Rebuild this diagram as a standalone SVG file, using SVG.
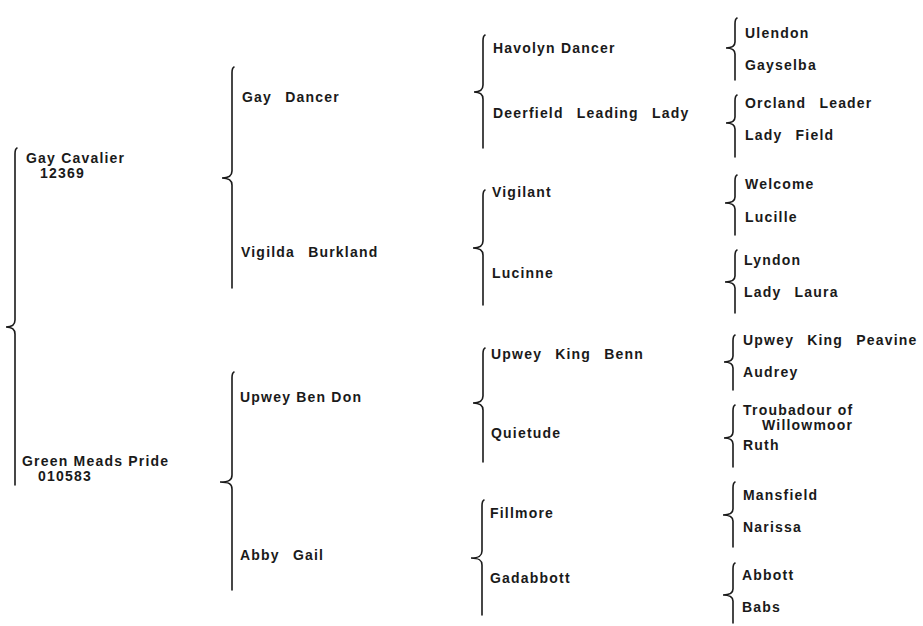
<svg xmlns="http://www.w3.org/2000/svg" width="923" height="626" viewBox="0 0 923 626">
<style>
text{font-family:"Liberation Sans",Arial,sans-serif;font-weight:bold;font-size:14px;letter-spacing:1.2px;fill:#1a1a1a}
.br{fill:none;stroke:#1a1a1a;stroke-width:1.6;stroke-linecap:round}
.w{word-spacing:8px}
</style>
<rect width="923" height="626" fill="#ffffff"/>
<g id="connectors">
<path class="br" d="M17 148 Q15 149 15 154 L15 320 C15 325 12 327 6 327 C12 327 15 329 15 334 L15 485"/>
<path class="br" d="M234 67 Q232 68 232 73 L232 171 C232 176 229 178 222 178 C229 178 232 180 232 185 L232 288"/>
<path class="br" d="M234 372 Q232 373 232 378 L232 475 C232 480 229 482 220 482 C229 482 232 484 232 489 L232 590"/>
<path class="br" d="M485 35 Q483 36 483 41 L483 85 C483 90 480 92 474 92 C480 92 483 94 483 99 L483 148"/>
<path class="br" d="M485 190 Q483 191 483 196 L483 241 C483 246 480 248 473 248 C480 248 483 250 483 255 L483 305"/>
<path class="br" d="M485 348 Q483 349 483 354 L483 396 C483 401 480 403 473 403 C480 403 483 405 483 410 L483 462"/>
<path class="br" d="M484 500 Q482 501 482 506 L482 551 C482 556 479 558 471 558 C479 558 482 560 482 565 L482 615"/>
<path class="br" d="M737 18 Q735 19 735 24 L735 42 C735 46 732 48 726 48 C732 48 735 50 735 54 L735 80"/>
<path class="br" d="M737 95 Q735 96 735 101 L735 117 C735 121 732 123 726 123 C732 123 735 125 735 129 L735 157"/>
<path class="br" d="M737 175 Q735 176 735 181 L735 197 C735 201 732 203 725 203 C732 203 735 205 735 209 L735 235"/>
<path class="br" d="M737 250 Q735 251 735 256 L735 276 C735 280 732 282 725 282 C732 282 735 284 735 288 L735 313"/>
<path class="br" d="M735 335 Q733 336 733 341 L733 356 C733 360 730 362 724 362 C730 362 733 364 733 368 L733 390"/>
<path class="br" d="M735 405 Q733 406 733 411 L733 432 C733 436 730 438 724 438 C730 438 733 440 733 444 L733 467"/>
<path class="br" d="M735 482 Q733 483 733 488 L733 509 C733 513 730 515 723 515 C730 515 733 517 733 521 L733 547"/>
<path class="br" d="M735 563 Q733 564 733 569 L733 589 C733 593 730 595 723 595 C730 595 733 597 733 601 L733 623"/>
</g>
<g id="gay-cavalier"><text x="26" y="163">Gay Cavalier</text><text x="40" y="178">12369</text></g>
<g id="green-meads-pride"><text x="22" y="466">Green Meads Pride</text><text x="38" y="481">010583</text></g>
<g id="gay-dancer"><text class="w" x="242" y="102">Gay Dancer</text></g>
<g id="vigilda-burkland"><text class="w" x="241" y="257">Vigilda Burkland</text></g>
<g id="upwey-ben-don"><text x="240" y="402">Upwey Ben Don</text></g>
<g id="abby-gail"><text class="w" x="240" y="560">Abby Gail</text></g>
<g id="havolyn-dancer"><text x="493" y="53">Havolyn Dancer</text></g>
<g id="deerfield-leading-lady"><text class="w" x="493" y="118">Deerfield Leading Lady</text></g>
<g id="vigilant"><text x="492" y="197">Vigilant</text></g>
<g id="lucinne"><text x="492" y="278">Lucinne</text></g>
<g id="upwey-king-benn"><text class="w" x="491" y="359">Upwey King Benn</text></g>
<g id="quietude"><text x="491" y="438">Quietude</text></g>
<g id="fillmore"><text x="490" y="518">Fillmore</text></g>
<g id="gadabbott"><text x="490" y="583">Gadabbott</text></g>
<g id="ulendon"><text x="745" y="38">Ulendon</text></g>
<g id="gayselba"><text x="745" y="70">Gayselba</text></g>
<g id="orcland-leader"><text class="w" x="745" y="108">Orcland Leader</text></g>
<g id="lady-field"><text class="w" x="745" y="140">Lady Field</text></g>
<g id="welcome"><text x="745" y="189">Welcome</text></g>
<g id="lucille"><text x="745" y="222">Lucille</text></g>
<g id="lyndon"><text x="744" y="265">Lyndon</text></g>
<g id="lady-laura"><text class="w" x="744" y="297">Lady Laura</text></g>
<g id="upwey-king-peavine"><text class="w" x="743" y="345">Upwey King Peavine</text></g>
<g id="audrey"><text x="743" y="377">Audrey</text></g>
<g id="troubadour-of-willowmoor"><text x="743" y="415">Troubadour of</text><text x="762" y="430">Willowmoor</text></g>
<g id="ruth"><text x="743" y="450">Ruth</text></g>
<g id="mansfield"><text x="743" y="500">Mansfield</text></g>
<g id="narissa"><text x="743" y="532">Narissa</text></g>
<g id="abbott"><text x="742" y="580">Abbott</text></g>
<g id="babs"><text x="742" y="612">Babs</text></g>
</svg>
